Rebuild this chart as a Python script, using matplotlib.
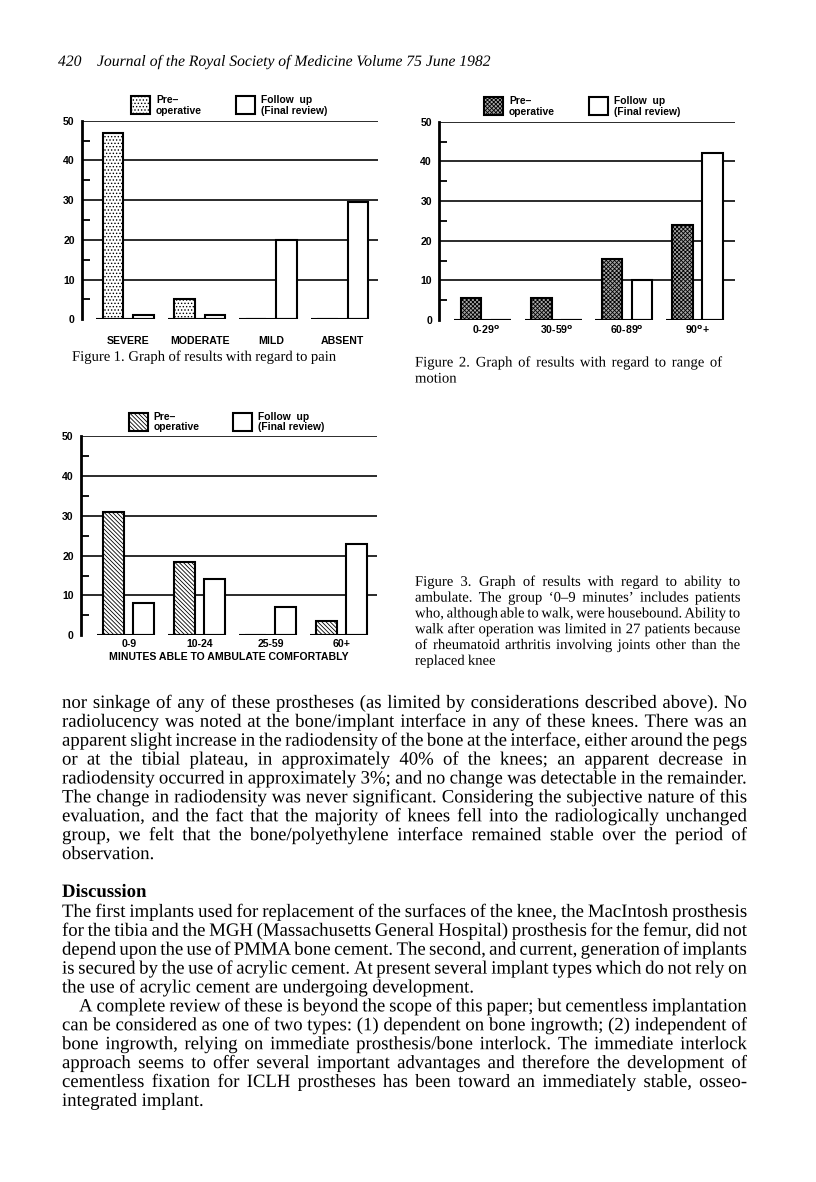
import numpy as np
import matplotlib
matplotlib.use('Agg')
import matplotlib.pyplot as plt
import matplotlib.patheffects as pe
from matplotlib.patches import Rectangle

### ======================================================================
### Values
### ======================================================================

pain_cats = ['SEVERE', 'MODERATE', 'MILD', 'ABSENT']
pain_pre = [47, 5, 0, 0]
pain_follow = [1, 1, 20, 29.5]

motion_cats = [r'0-29$^{\mathbf{o}}$', r'30-59$^{\mathbf{o}}$', r'60-89$^{\mathbf{o}}$', r'90$^{\mathbf{o}}$+']
motion_pre = [5.5, 5.5, 15.5, 24]
motion_follow = [0, 0, 10, 42]

walk_cats = ['0-9', '10-24', '25-59', '60+']
walk_pre = [31, 18.3, 0, 3.5]
walk_follow = [8, 14, 7, 23]

yticks = [0, 10, 20, 30, 40, 50]

### ======================================================================
### Page text
### ======================================================================

header_num = '420'
header = 'Journal of the Royal Society of Medicine Volume 75 June 1982'

cap1 = 'Figure 1. Graph of results with regard to pain'
cap2 = ['Figure 2. Graph of results with regard to range of', 'motion']
cap3 = ['Figure 3. Graph of results with regard to ability to',
        'ambulate. The group \u20180\u20139 minutes\u2019 includes patients',
        'who, although able to walk, were housebound. Ability to',
        'walk after operation was limited in 27 patients because',
        'of rheumatoid arthritis involving joints other than the',
        'replaced knee']

para1 = ['nor sinkage of any of these prostheses (as limited by considerations described above). No',
         'radiolucency was noted at the bone/implant interface in any of these knees. There was an',
         'apparent slight increase in the radiodensity of the bone at the interface, either around the pegs',
         'or at the tibial plateau, in approximately 40% of the knees; an apparent decrease in',
         'radiodensity occurred in approximately 3%; and no change was detectable in the remainder.',
         'The change in radiodensity was never significant. Considering the subjective nature of this',
         'evaluation, and the fact that the majority of knees fell into the radiologically unchanged',
         'group, we felt that the bone/polyethylene interface remained stable over the period of',
         'observation.']
para2 = ['The first implants used for replacement of the surfaces of the knee, the MacIntosh prosthesis',
         'for the tibia and the MGH (Massachusetts General Hospital) prosthesis for the femur, did not',
         'depend upon the use of PMMA bone cement. The second, and current, generation of implants',
         'is secured by the use of acrylic cement. At present several implant types which do not rely on',
         'the use of acrylic cement are undergoing development.']
para3 = ['A complete review of these is beyond the scope of this paper; but cementless implantation',
         'can be considered as one of two types: (1) dependent on bone ingrowth; (2) independent of',
         'bone ingrowth, relying on immediate prosthesis/bone interlock. The immediate interlock',
         'approach seems to offer several important advantages and therefore the development of',
         'cementless fixation for ICLH prostheses has been toward an immediately stable, osseo-',
         'integrated implant.']

W, H = 816, 1182
SERIF = 'Liberation Serif'
SANS = 'Liberation Sans'

plt.rcParams['hatch.linewidth'] = 0.6
plt.rcParams['font.family'] = SANS

fig = plt.figure(figsize=(W/100, H/100), dpi=100)
fig.patch.set_facecolor('white')

# overlay in pixel coordinates for the page text and legends
ov = fig.add_axes([0, 0, 1, 1])
ov.set_xlim(0, W)
ov.set_ylim(H, 0)
ov.axis('off')
ov.patch.set_visible(False)

renderer = fig.canvas.get_renderer()
as_path = [pe.Normal()]   # draw words as paths so the baselines stay level


def width_of(s, **kw):
    t = ov.text(0, 0, s, **kw)
    w = t.get_window_extent(renderer).width
    t.remove()
    return w


def space_of(**kw):
    return width_of('a a', **kw) - width_of('aa', **kw)


def tight_width(line, shrink, **kw):
    words = line.split(' ')
    return sum(width_of(w, **kw) for w in words) + (len(words) - 1)*shrink*space_of(**kw)


def fit_size(lines, width, shrink=1.0, **kw):
    base = 10
    nat = max(tight_width(l, shrink, fontsize=base, **kw) for l in lines)
    return base*width/nat


def put_line(line, x0, x1, y, justify, fontsize, **kw):
    words = line.split(' ')
    base_y = y + 0.33*fontsize*100/72
    ts = [ov.text(0, base_y, w, va='baseline', ha='left', fontsize=fontsize,
                  path_effects=as_path, **kw) for w in words]
    ws = [t.get_window_extent(renderer).width for t in ts]
    if justify and len(words) > 1:
        gap = (x1 - x0 - sum(ws))/(len(words) - 1)
    else:
        gap = space_of(fontsize=fontsize, **kw)
    x = x0
    for t, w in zip(ts, ws):
        t.set_x(x)
        x += w + gap


def put_para(lines, x0, x1, y0, dy, size, indent=0, **kw):
    for i, l in enumerate(lines):
        xs = x0 + (indent if i == 0 else 0)
        put_line(l, xs, x1, y0 + i*dy, i < len(lines) - 1, size, family=SERIF, **kw)


def px_axes(left, right, top, bottom):
    return fig.add_axes([left/W, 1 - bottom/H, (right - left)/W, (bottom - top)/H])


def bar_panel(ax, cats, pre, follow, pre_style, xlim, off, width, lab_pad):
    x = np.arange(len(cats))
    ax.bar(x - off, pre, width, edgecolor='black', linewidth=1.5, zorder=3, **pre_style)
    ax.bar(x + off, follow, width, facecolor='white', edgecolor='black', linewidth=1.5, zorder=3)
    ax.hlines(np.zeros(len(x)), x - off - width/2 - 0.09, x + off + width/2,
              color='black', lw=1.5, zorder=4)
    ax.set_xlim(*xlim)
    ax.set_ylim(0, 50)
    for s in ['top', 'right', 'bottom']:
        ax.spines[s].set_visible(False)
    ax.spines['left'].set_linewidth(2)
    ax.set_yticks(yticks)
    ax.set_yticklabels([str(v) for v in yticks], fontsize=7.6, fontweight='bold')
    ax.set_yticks(np.arange(5, 50, 10), minor=True)
    ax.tick_params(axis='y', which='major', length=0, pad=5)
    ax.tick_params(axis='y', which='minor', direction='in', length=6, width=1.3)
    ax.yaxis.grid(True, color='#1a1a1a', lw=1.3, zorder=1)
    ax.yaxis.get_major_ticks()[0].gridline.set_visible(False)
    ax.set_xticks(x)
    ax.set_xticklabels(cats, fontsize=7.6, fontweight='bold')
    ax.tick_params(axis='x', length=0, pad=lab_pad)
    ax.set_facecolor('none')


def legend_box(x, y, pre_style):
    # x,y: top-left of the pre-operative swatch
    ov.add_patch(Rectangle((x, y), 19, 18.5, edgecolor='black', lw=1.5, **pre_style))
    ov.text(x + 25, y + 4.5, 'Pre\u2013', fontsize=7.4, fontweight='bold', va='center')
    ov.text(x + 25, y + 15, 'operative', fontsize=7.4, fontweight='bold', va='center')
    ov.add_patch(Rectangle((x + 104.5, y), 19, 18.5, edgecolor='black', lw=1.5, facecolor='white'))
    ov.text(x + 130, y + 4.5, 'Follow  up', fontsize=7.4, fontweight='bold', va='center')
    ov.text(x + 130, y + 15, '(Final review)', fontsize=7.4, fontweight='bold', va='center')


dots = dict(facecolor='white', hatch='.....')
grey = dict(facecolor='#a8a8a8', hatch='xxxxxxxx')
diag = dict(facecolor='white', hatch='\\\\\\\\\\\\\\\\')

### Figure 1 -- pain
ax1 = px_axes(81.7, 378, 120.7, 319.3)
bar_panel(ax1, pain_cats, pain_pre, pain_follow, dots, (-0.651, 3.493), 0.213, 0.29, 12)
legend_box(131, 95.5, dots)

### Figure 2 -- range of motion
ax2 = px_axes(439, 735, 121.7, 320)
bar_panel(ax2, motion_cats, motion_pre, motion_follow, grey, (-0.667, 3.53), 0.213, 0.29, 2.5)
legend_box(484, 96.7, grey)

### Figure 3 -- ambulation
ax3 = px_axes(80.7, 376.7, 436, 635.3)
bar_panel(ax3, walk_cats, walk_pre, walk_follow, diag, (-0.676, 3.493), 0.211, 0.29, 2.5)
ax3.set_xlabel('MINUTES ABLE TO AMBULATE COMFORTABLY', fontsize=7.6, fontweight='bold', labelpad=2)
legend_box(128.5, 412.5, diag)

### ======================================================================
### Page text
### ======================================================================

hsize = fit_size([header], 492 - 97, family=SERIF, style='italic')
put_line(header_num, 58, 90, 60.7, False, hsize, family=SERIF, style='italic')
put_line(header, 97, 492, 60.7, False, hsize, family=SERIF, style='italic')

csize = min(fit_size([cap2[0]], 722 - 415, family=SERIF),
            fit_size(cap3[:-1], 740 - 415, shrink=0.72, family=SERIF))
put_line(cap1, 72, 400, 356, False, csize, family=SERIF)
put_line(cap2[0], 415, 722, 361.7, True, csize, family=SERIF)
put_line(cap2[1], 415, 722, 377.7, False, csize, family=SERIF)
put_para(cap3, 415, 740, 581, 15.8, csize)

bsize = fit_size(para1[:-1] + para2[:-1] + para3[:-1], 747 - 62, shrink=0.72, family=SERIF)
put_para(para1, 62, 747, 701.7, 18.9, bsize)
put_line('Discussion', 62, 300, 890.7, False, bsize, family=SERIF, fontweight='bold')
put_para(para2, 62, 747, 910.7, 18.9, bsize)
put_para(para3, 62, 747, 1005.2, 18.9, bsize, indent=17)

fig.savefig('out.png', dpi=100)
